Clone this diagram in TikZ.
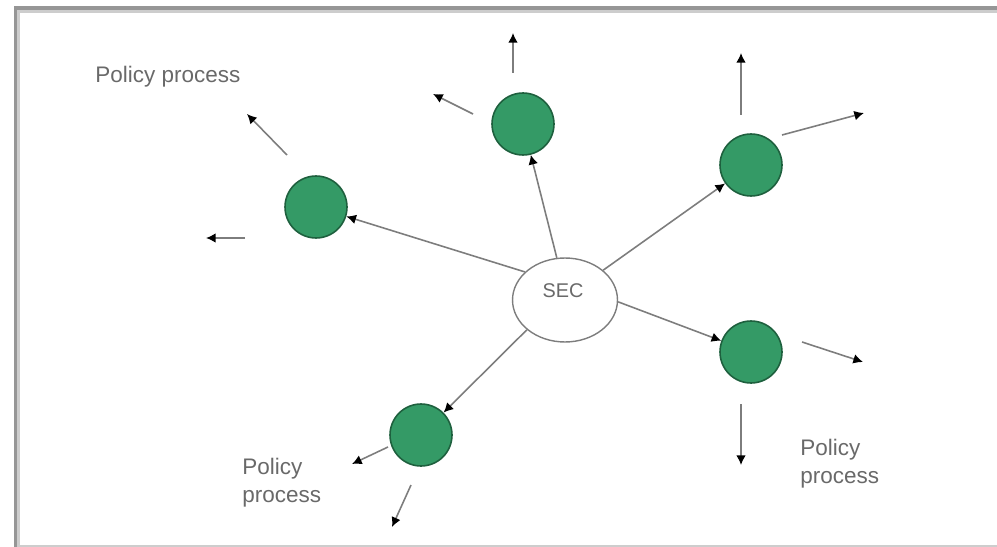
\documentclass[tikz,border=0pt]{standalone}
\usepackage{fontspec}
\setmainfont{Liberation Sans}
\usepackage{tikz}
\usetikzlibrary{arrows.meta,shapes.geometric}

\definecolor{polgreen}{RGB}{52,154,102}
\definecolor{polrim}{RGB}{30,96,62}
\definecolor{linegray}{RGB}{125,125,125}
\definecolor{textgray}{RGB}{105,105,105}
\definecolor{framedark}{RGB}{150,150,150}
\definecolor{framelight}{RGB}{205,205,205}

\begin{document}
\begin{tikzpicture}[x=0.02cm, y=-0.02cm,
        policy/.style={circle, fill=polgreen, draw=polrim, line width=0.9pt,
            minimum size=1.24cm, inner sep=0pt},
        link/.style={draw=linegray, line width=0.9pt,
            -{Latex[color=black,length=5.5pt,width=5.5pt]}},
        lbl/.style={text=textgray, font=\fontsize{12.8}{15.9}\selectfont,
            align=left, inner sep=0pt}]
        \useasboundingbox (0,0) rectangle (997,547);

        % frame
        \draw[framedark, line width=2.2pt] (997,8) -- (15.5,8) -- (15.5,547);
        \draw[framelight, line width=1.7pt] (997,11.5) -- (18.5,11.5) -- (18.5,547);
        \draw[framelight, line width=1pt] (18.5,546) -- (997,546);

        % centre and policy circles
        \node[ellipse, draw=linegray, line width=0.8pt, minimum width=2.1cm,
            minimum height=1.68cm, inner sep=0pt] (sec) at (565,300) {};
        \node[text=textgray, font=\fontsize{11.3}{13}\selectfont] (seclbl) at (563,291) {SEC};

        \node[policy] (p1) at (316,207) {};
        \node[policy] (p2) at (523,124) {};
        \node[policy] (p3) at (751,165) {};
        \node[policy] (p4) at (751,352) {};
        \node[policy] (p5) at (421,435) {};

        \draw[link] (sec.145) -- (p1);
        \draw[link] (sec.101) -- (p2);
        \draw[link] (sec.38) -- (p3);
        \draw[link] (sec.-2) -- (p4);
        \draw[link] (sec.218) -- (p5);

        % outgoing arrows
        \coordinate (o1a) at (287,155);  \coordinate (o1b) at (247,114);
        \coordinate (o2a) at (245,238);  \coordinate (o2b) at (206,238);
        \coordinate (o3a) at (473,114);  \coordinate (o3b) at (433,94);
        \coordinate (o4a) at (513,73);   \coordinate (o4b) at (513,33);
        \coordinate (o5a) at (741,115);  \coordinate (o5b) at (741,53);
        \coordinate (o6a) at (782,135);  \coordinate (o6b) at (864,113);
        \coordinate (o7a) at (802,342);  \coordinate (o7b) at (863,362);
        \coordinate (o8a) at (741,404);  \coordinate (o8b) at (741,465);
        \coordinate (o9a) at (388,447);  \coordinate (o9b) at (352,464);
        \coordinate (o10a) at (411,485); \coordinate (o10b) at (392,527);

        \draw[link] (o1a) -- (o1b);
        \draw[link] (o2a) -- (o2b);
        \draw[link] (o3a) -- (o3b);
        \draw[link] (o4a) -- (o4b);
        \draw[link] (o5a) -- (o5b);
        \draw[link] (o6a) -- (o6b);
        \draw[link] (o7a) -- (o7b);
        \draw[link] (o8a) -- (o8b);
        \draw[link] (o9a) -- (o9b);
        \draw[link] (o10a) -- (o10b);

        % labels
        \node[lbl, anchor=base west] (pp1) at (95,83) {Policy process};
        \node[lbl, anchor=base west] (pp2) at (242,502) {Policy\\process};
        \node[lbl, anchor=base west] (pp3) at (800,483) {Policy\\process};
    \end{tikzpicture}
\end{document}
